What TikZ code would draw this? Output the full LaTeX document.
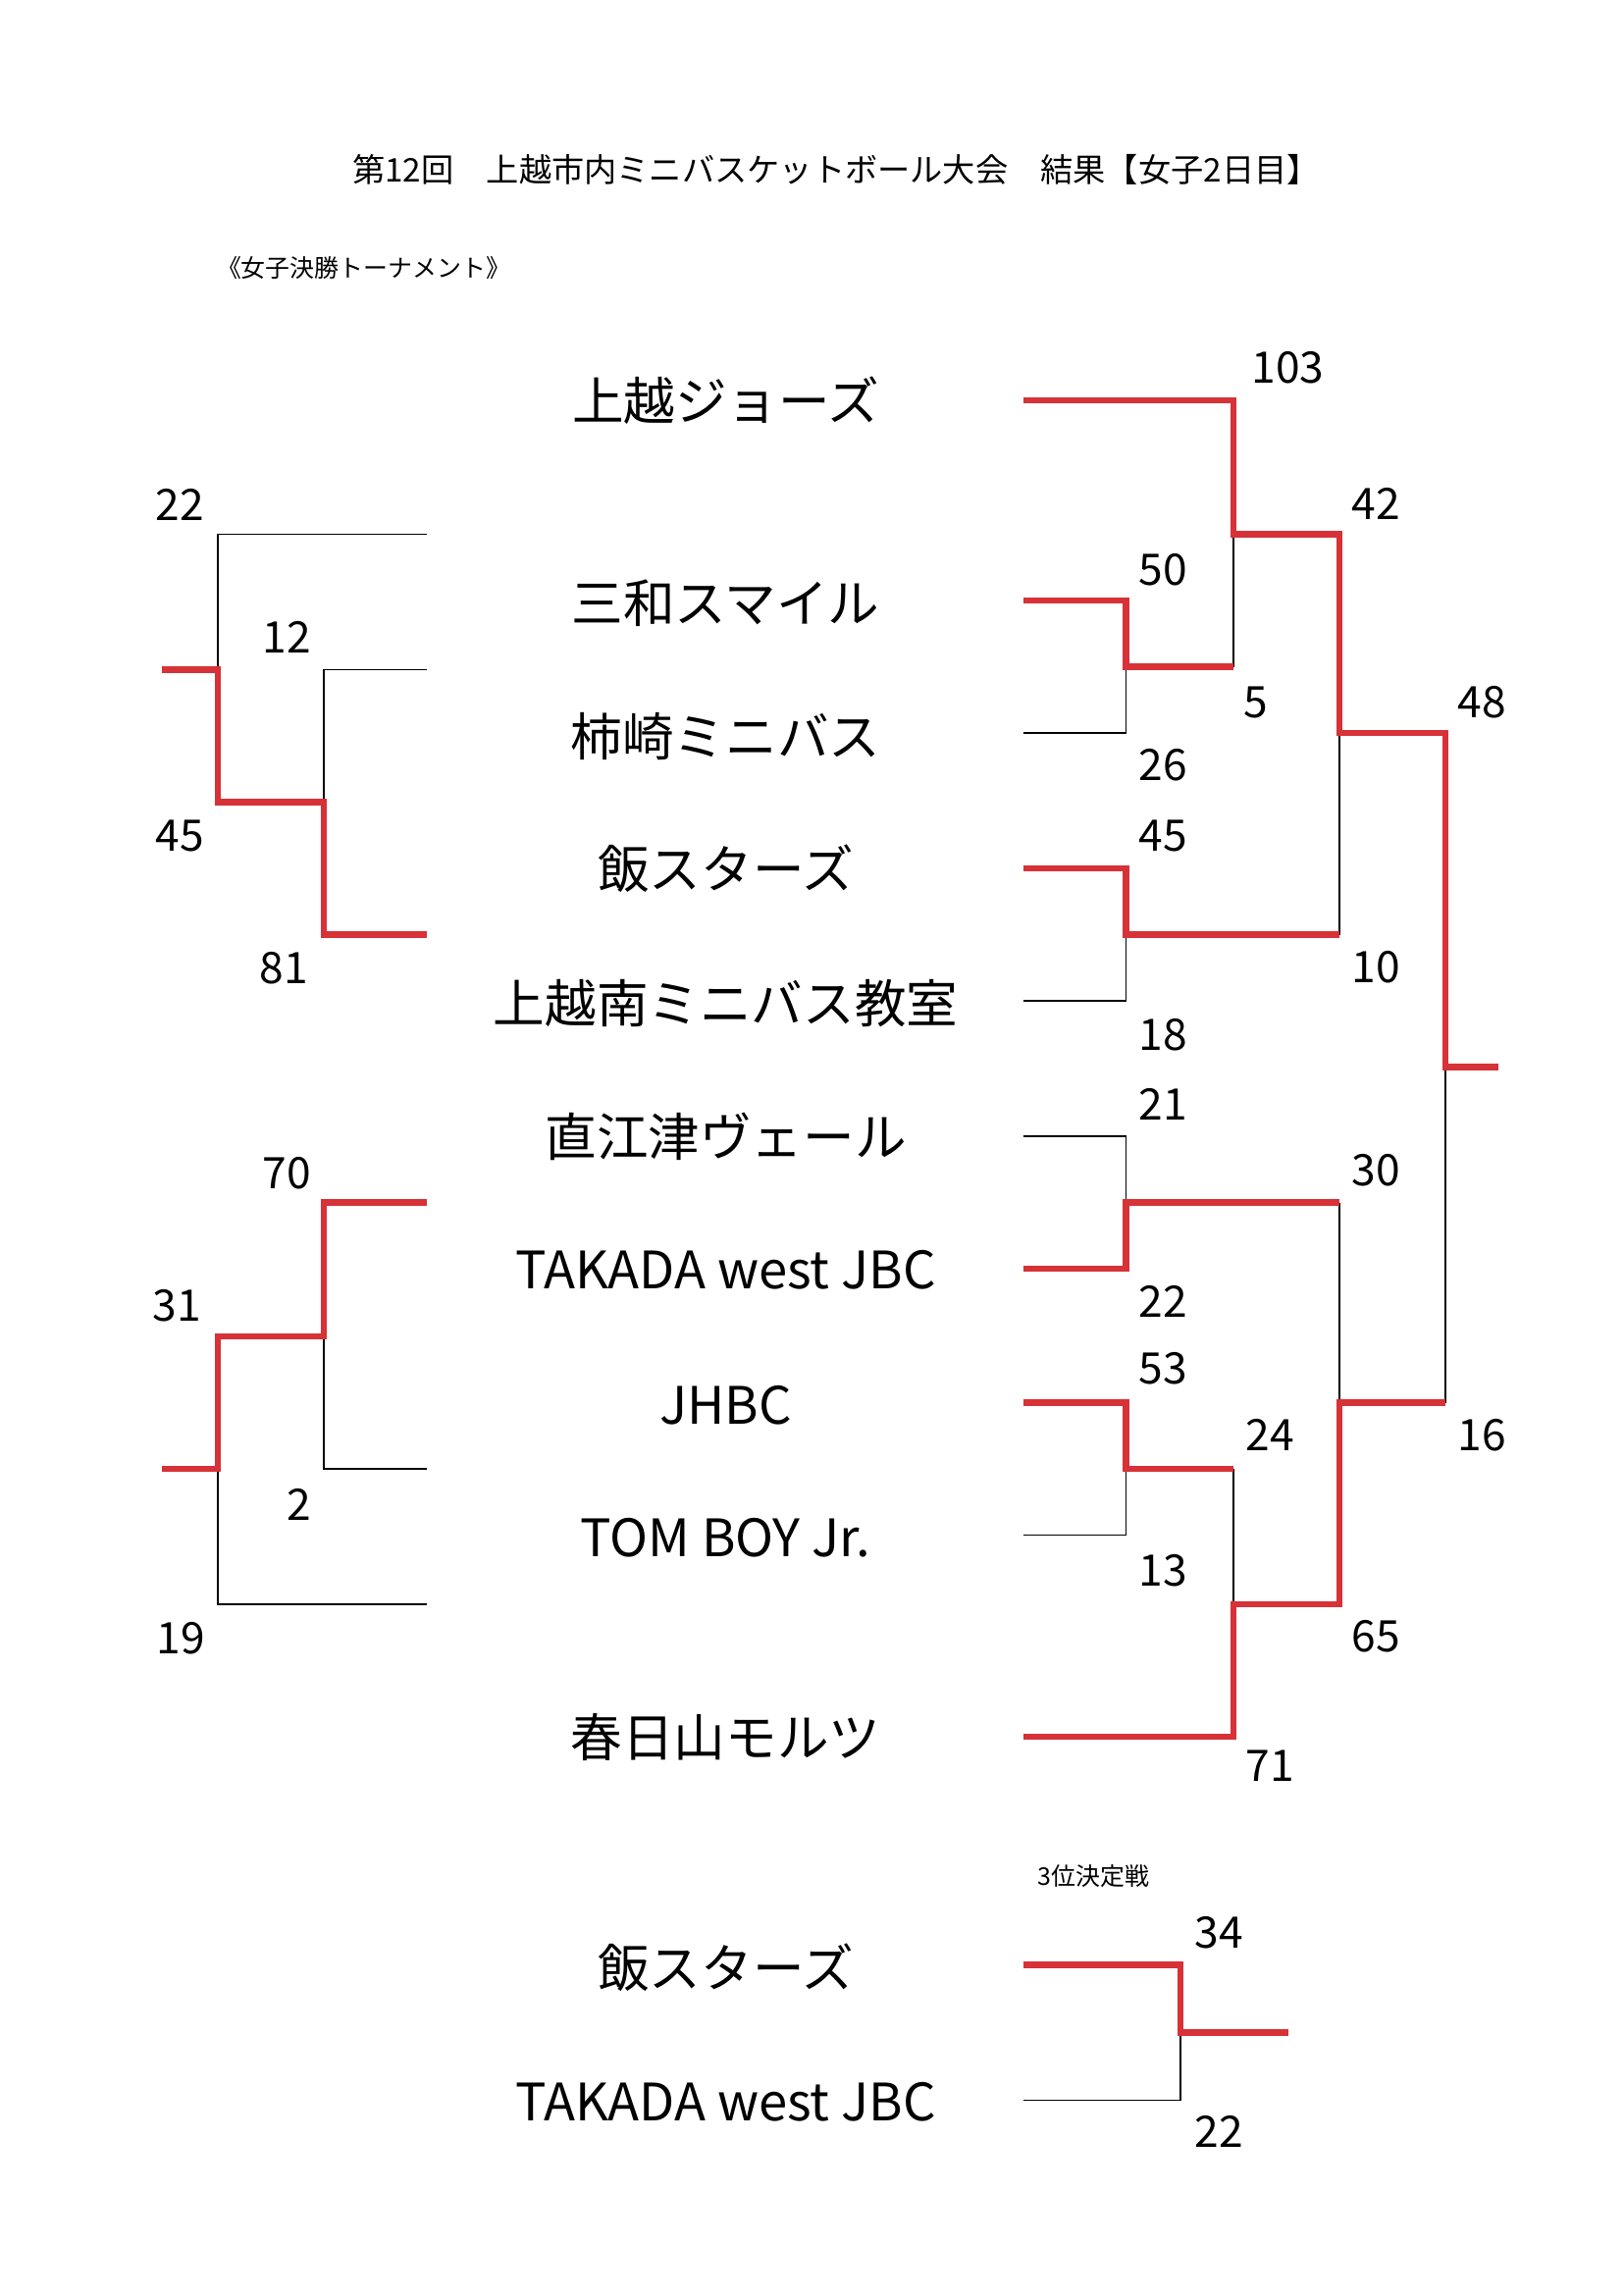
\documentclass[tikz,border=0pt]{standalone}
\usepackage{fontspec}
\newfontfamily\jp{Noto Sans CJK JP}
\definecolor{winred}{RGB}{214,50,55}
\tikzset{
  win/.style={draw=winred, line width=2.2pt},
  lose/.style={draw=black, line width=0.6pt},
  team/.style={font=\jp\fontsize{19}{19}\selectfont},
  score/.style={font=\jp\fontsize{16}{16}\selectfont},
}
\begin{document}
\begin{tikzpicture}[x=0.01904cm, y=-0.01904cm]
  \useasboundingbox[fill=white] (0,0) rectangle (1103,1560);
  % titles
  \node[font=\jp\fontsize{12}{12}\selectfont] (title) at (568,115) {第12回\hspace{1em}上越市内ミニバスケットボール大会\hspace{1em}結果【女子2日目】};
  \node[font=\jp\fontsize{9}{9}\selectfont] (sub) at (247,182) {《女子決勝トーナメント》};
  % teams
  \foreach \y/\name [count=\i] in {
      272/上越ジョーズ, 410/三和スマイル, 500/柿崎ミニバス, 590/飯スターズ,
      682/上越南ミニバス教室, 772/直江津ヴェール, 863/TAKADA west JBC,
      955/JHBC, 1045/TOM BOY Jr., 1180/春日山モルツ,
      1337/飯スターズ, 1428/TAKADA west JBC} {
    \node[team] (team\i) at (493,\y) {\name};
  }
  % right bracket
  \draw[lose] (838,363) -- (838,453);
  \draw[lose] (695,498) -- (765,498) -- (765,453);
  \draw[lose] (910,498) -- (910,635);
  \draw[lose] (695,680) -- (765,680) -- (765,635);
  \draw[lose] (695,772) -- (765,772) -- (765,817);
  \draw[lose] (910,817) -- (910,953);
  \draw[lose] (695,1043) -- (765,1043) -- (765,998);
  \draw[lose] (838,998) -- (838,1090);
  \draw[lose] (982,725) -- (982,953);
  \draw[win] (695,272) -- (838,272) -- (838,363) -- (910,363) -- (910,498)
    -- (982,498) -- (982,725) -- (1018,725);
  \draw[win] (695,408) -- (765,408) -- (765,453) -- (838,453);
  \draw[win] (695,590) -- (765,590) -- (765,635) -- (910,635);
  \draw[win] (695,862) -- (765,862) -- (765,817) -- (910,817);
  \draw[win] (695,953) -- (765,953) -- (765,998) -- (838,998);
  \draw[win] (695,1180) -- (838,1180) -- (838,1090) -- (910,1090) -- (910,953)
    -- (982,953);
  % left bracket
  \draw[lose] (290,363) -- (148,363) -- (148,455);
  \draw[lose] (290,455) -- (220,455) -- (220,545);
  \draw[win] (110,455) -- (148,455) -- (148,545) -- (220,545) -- (220,635)
    -- (290,635);
  \draw[lose] (290,998) -- (220,998) -- (220,908);
  \draw[lose] (290,1090) -- (148,1090) -- (148,998);
  \draw[win] (290,817) -- (220,817) -- (220,908) -- (148,908) -- (148,998)
    -- (110,998);
  % third place
  \node[font=\jp\fontsize{9}{9}\selectfont] (third) at (743,1275) {3位決定戦};
  \draw[lose] (695,1427) -- (802,1427) -- (802,1381);
  \draw[win] (695,1335) -- (802,1335) -- (802,1381) -- (875,1381);
  % scores
  \foreach \x/\y/\s [count=\i] in {
      875/250/103, 935/342/42, 790/387/50, 853/477/5, 790/520/26, 1007/477/48,
      790/568/45, 935/657/10, 790/703/18, 790/750/21, 935/795/30, 790/884/22,
      790/930/53, 863/975/24, 1007/975/16, 790/1067/13, 935/1112/65, 863/1200/71,
      122/343/22, 195/433/12, 122/568/45, 193/658/81,
      195/797/70, 120/887/31, 203/1022/2, 123/1113/19,
      828/1313/34, 828/1448/22} {
    \node[score] (score\i) at (\x,\y) {\s};
  }
\end{tikzpicture}
\end{document}
